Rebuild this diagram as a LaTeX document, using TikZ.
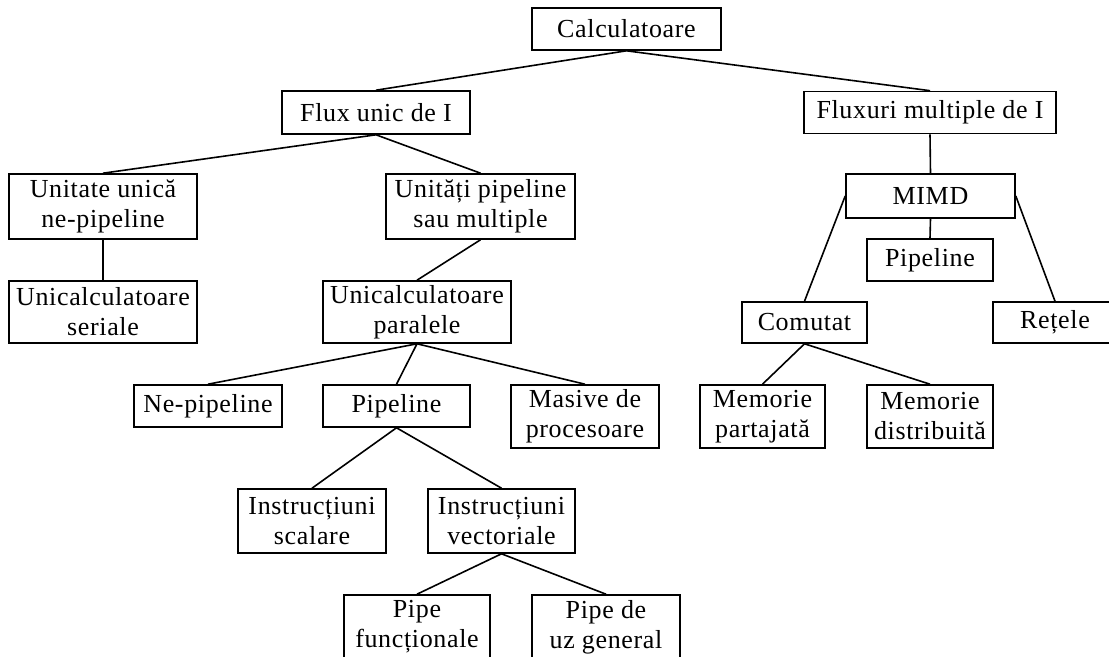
\documentclass[tikz,border=0pt]{standalone}
\usepackage{fontspec}
\setmainfont{Liberation Serif}[LetterSpace=2.5]
\begin{document}
\begin{tikzpicture}[x=0.5pt,y=-0.5pt,
  box/.style={draw=black,line width=0.8pt,inner sep=0pt,align=center,
    font=\fontsize{13}{15}\selectfont},
  link/.style={draw=black,line width=0.8pt}]
\path[use as bounding box] (0,0) rectangle (1109,657);
\fill[white] (0,0) rectangle (1109,657);
\clip (0,0) rectangle (1109,657);

% root and first level
\node[box,minimum width=94.5pt,minimum height=21pt] (calc) at (626.5,29) {Calculatoare};
\node[box,minimum width=94pt,minimum height=21.5pt] (flux) at (376,112.5) {Flux unic de I};
\node[box,minimum width=126pt,minimum height=21pt] (fluxm) at (930,112.5) {Fluxuri multiple de I};

% single instruction stream branch
\node[box,minimum width=94pt,minimum height=32.5pt] (uu) at (103,206.5) {Unitate unică\\ne-pipeline};
\node[box,minimum width=94.5pt,minimum height=32.5pt] (upm) at (480.5,206.5) {Unități pipeline\\sau multiple};
\node[box,minimum width=94pt,minimum height=31pt] (us) at (103,312) {Unicalculatoare\\seriale};
\node[box,minimum width=94pt,minimum height=31pt] (up) at (417,312) {Unicalculatoare\\paralele};
\node[box,minimum width=74pt,minimum height=21pt] (nep) at (208,406) {Ne-pipeline};
\node[box,minimum width=73.5pt,minimum height=21pt] (pipm) at (396.5,406) {Pipeline};
\node[box,minimum width=74pt,minimum height=31.5pt] (mas) at (585,416.5) {Masive de\\procesoare};
\node[box,minimum width=74pt,minimum height=32pt] (isc) at (312,521) {Instrucțiuni\\scalare};
\node[box,minimum width=73.5pt,minimum height=32pt] (ivec) at (501.5,521) {Instrucțiuni\\vectoriale};
\node[box,minimum width=73pt,minimum height=32pt] (pf) at (417,627) {Pipe\\funcționale};
\node[box,minimum width=74pt,minimum height=32pt] (pug) at (606,627) {Pipe de\\uz general};

% multiple instruction stream branch
\node[box,minimum width=84.5pt,minimum height=22pt] (mimd) at (930.5,196) {MIMD};
\node[box,minimum width=63pt,minimum height=21pt] (pipr) at (930,260) {Pipeline};
\node[box,minimum width=62.5pt,minimum height=20.5pt] (com) at (804.5,322.5) {Comutat};
\node[box,minimum width=62pt,minimum height=20.5pt] (ret) at (1055,322.5) {Rețele};
\node[box,minimum width=62.5pt,minimum height=31.5pt] (memp) at (762.5,416.5) {Memorie\\partajată};
\node[box,minimum width=63pt,minimum height=31.5pt] (memd) at (930,416.5) {Memorie\\distribuită};

% connectors
\path[link] (calc.south) -- (flux.north);
\path[link] (calc.south) -- (fluxm.north);
\path[link] (flux.south) -- (uu.north);
\path[link] (flux.south) -- (upm.north);
\path[link] (uu.south) -- (us.north);
\path[link] (upm.south) -- (up.north);
\path[link] (up.south) -- (nep.north);
\path[link] (up.south) -- (pipm.north);
\path[link] (up.south) -- (mas.north);
\path[link] (pipm.south) -- (isc.north);
\path[link] (pipm.south) -- (ivec.north);
\path[link] (ivec.south) -- (pf.north);
\path[link] (ivec.south) -- (pug.north);
\path[link] (fluxm.south) -- (mimd.north);
\path[link] (mimd.south) -- (pipr.north);
\path[link] (mimd.west) -- (com.north);
\path[link] (mimd.east) -- (ret.north);
\path[link] (com.south) -- (memp.north);
\path[link] (com.south) -- (memd.north);
\end{tikzpicture}
\end{document}
